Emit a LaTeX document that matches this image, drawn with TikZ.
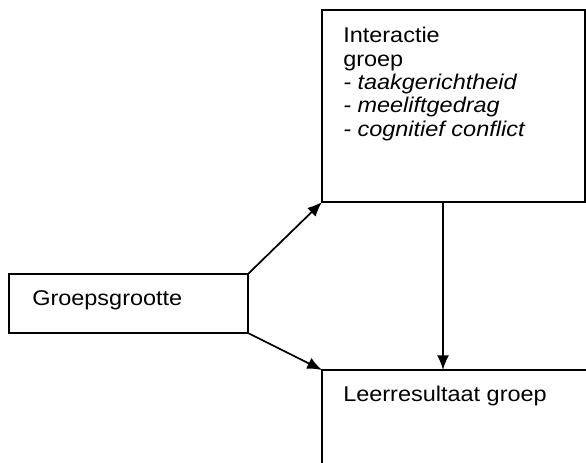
\documentclass[tikz,border=0pt]{standalone}
\usepackage{fontspec}
\setmainfont[FakeStretch=1.1]{Liberation Sans}
\usetikzlibrary{arrows.meta}
\begin{document}
\begin{tikzpicture}[x=.75pt,y=-.75pt,
    box/.style={draw,line width=1.3pt,rectangle,inner sep=0pt,outer sep=0pt,anchor=north west},
    txt/.style={inner sep=0pt,align=left,font=\fontsize{16}{17.5}\selectfont},
    arr/.style={line width=1.3pt,-{Latex[length=11pt,width=9pt]}}]
  \clip (0,0) rectangle (586,463);
  % boxes
  \node[box,minimum width=197.25pt,minimum height=144pt](inter) at (322,10) {};
  \node[box,minimum width=179.25pt,minimum height=44.25pt](groot) at (9,274) {};
  \node[box,minimum width=225pt,minimum height=112.5pt](leer) at (322,370) {};
  % texts
  \node[txt,anchor=north west](intertxt) at (343,27)
    {Interactie\\groep\\\textit{- taakgerichtheid}\\\textit{- meeliftgedrag}\\\textit{- cognitief conflict}};
  \node[txt,anchor=base west](groottxt) at (32,305.5) {Groepsgrootte};
  \node[txt,anchor=base west](leertxt) at (343,402) {Leerresultaat groep};
  % arrows
  \coordinate (drop) at (443,202);
  \draw[arr] (groot.north east) -- (inter.south west);
  \draw[arr] (groot.south east) -- (leer.north west);
  \draw[arr] (drop) -- (drop |- leer.north);
\end{tikzpicture}
\end{document}
